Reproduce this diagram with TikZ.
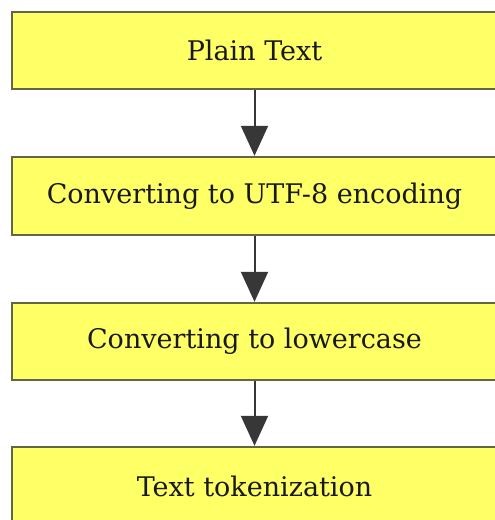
\documentclass[tikz,border=0pt]{standalone}
\usepackage{fontspec}
\setmainfont{DejaVu Serif}
\usetikzlibrary{arrows.meta}
\definecolor{boxfill}{RGB}{255,255,102}
\definecolor{boxline}{RGB}{100,100,70}
\definecolor{arrowline}{RGB}{55,55,55}
\tikzset{
  stage/.style={draw=boxline, line width=2.4pt, fill=boxfill,
    minimum width=485pt, inner sep=0pt, anchor=center,
    font=\fontsize{27}{32}\selectfont, text=black!90},
  flow/.style={draw=arrowline, line width=2pt,
    -{Triangle[width=27pt,length=30pt]}, arrowline}
}
\begin{document}
\begin{tikzpicture}[x=1pt,y=-1pt]
  \useasboundingbox (0,0) rectangle (495,520);
  \node[stage, minimum height=77pt] (plain) at (254.5,50.5) {Plain Text};
  \node[stage, minimum height=78pt] (utf) at (254.5,196) {Converting to UTF-8 encoding};
  \node[stage, minimum height=77pt] (lower) at (254.5,341.5) {Converting to lowercase};
  \node[stage, minimum height=79pt] (token) at (254.5,486.5) {Text tokenization};
  \draw[flow] (plain.south) -- (utf.north);
  \draw[flow] (utf.south) -- (lower.north);
  \draw[flow] (lower.south) -- (token.north);
\end{tikzpicture}
\end{document}
